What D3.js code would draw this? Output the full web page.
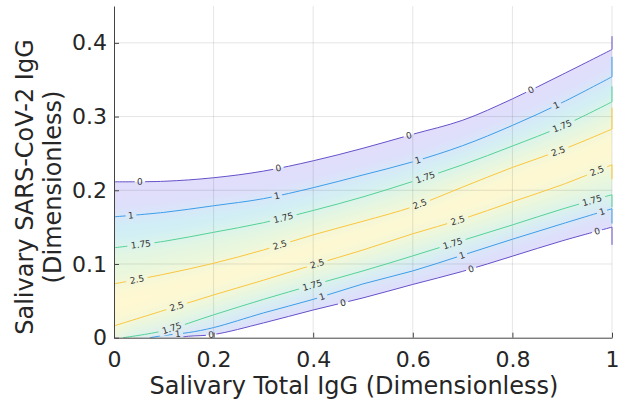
<!DOCTYPE html>
<html>
<head>
<meta charset="utf-8">
<script src="https://cdn.jsdelivr.net/npm/d3@7"></script>
<style>
  body { margin: 0; background: #fff; }
  svg { display: block; font-family: "DejaVu Sans", sans-serif; }
</style>
</head>
<body>
<svg id="chart" width="631" height="406"></svg>
<script>
// contour levels, line colours and the shading between them
const levelText = ['0', '1', '1.75', '2.5'];
const lineColors = ['#6650c9', '#3d9de8', '#55d296', '#fbc63e'];
const bandColors = ['#e0defb', '#cfeff6', '#e6f7df', '#fff8d1'];

const xTicks = [0, 0.2, 0.4, 0.6, 0.8, 1];
const xTickLabels = ['0', '0.2', '0.4', '0.6', '0.8', '1'];
const yTicks = [0, 0.1, 0.2, 0.3, 0.4];
const yTickLabels = ['0', '0.1', '0.2', '0.3', '0.4'];

// upper branches, read at gridX
const gridX = [0, 0.1, 0.2, 0.3, 0.4, 0.5, 0.6, 0.7, 0.8, 0.9, 1];
const upper0 = [0.2115, 0.2122, 0.217, 0.226, 0.240, 0.257, 0.276, 0.295, 0.324, 0.357, 0.391];
const upper1 = [0.164, 0.170, 0.179, 0.1886, 0.2035, 0.2208, 0.2386, 0.2605, 0.288, 0.319, 0.354];
const upper175 = [0.122, 0.1307, 0.143, 0.156, 0.1726, 0.191, 0.212, 0.2346, 0.260, 0.287, 0.320];
const upper25 = [0.073, 0.086, 0.101, 0.119, 0.1395, 0.158, 0.1776, 0.2043, 0.231, 0.255, 0.283];

// lower branches
const lower25 = [0.016, 0.037, 0.058, 0.078, 0.0988, 0.119, 0.141, 0.161, 0.1844, 0.2075, 0.2346];
const lower175X = [0.018, 0.1, 0.2, 0.3, 0.4, 0.5, 0.6, 0.7, 0.8, 0.9, 1];
const lower175 = [0, 0.0095, 0.031, 0.052, 0.0716, 0.0906, 0.111, 0.132, 0.153, 0.1745, 0.194];
const lower1X = [0.072, 0.1, 0.15, 0.2, 0.3, 0.4, 0.5, 0.6, 0.7, 0.8, 0.9, 1];
const lower1 = [0, 0.003, 0.007, 0.0137, 0.0336, 0.052, 0.073, 0.0906, 0.112, 0.1336, 0.1545, 0.175];
const lower0X = [0.126, 0.15, 0.2, 0.3, 0.4, 0.5, 0.6, 0.7, 0.8, 0.9, 1];
const lower0 = [0, 0.002, 0.0043, 0.020, 0.0376, 0.054, 0.0723, 0.090, 0.1106, 0.1314, 0.150];

// short vertical pieces where each contour meets x = 1
const upperEdge = [0.409, 0.381, 0.341, 0.312];
const lowerEdge = [0.126, 0.155, 0.177, 0.215];

// x positions of the inline contour labels
const labelsUpper = [[0.052, 0.33, 0.592, 0.837], [0.034, 0.327, 0.61, 0.888],
                     [0.054, 0.34, 0.625, 0.90], [0.046, 0.333, 0.614, 0.892]];
const labelsLower = [[0.195, 0.46, 0.717, 0.97], [0.128, 0.418, 0.699, 0.98],
                     [0.116, 0.398, 0.68, 0.96], [0.126, 0.408, 0.69, 0.97]];

const upperY = [upper0, upper1, upper175, upper25];
const lowerX = [lower0X, lower1X, lower175X, gridX];
const lowerY = [lower0, lower1, lower175, lower25];

const svg = d3.select('#chart');
const x = d3.scaleLinear().domain([0, 1]).range([114, 612]);
const y = d3.scaleLinear().domain([0, 0.45]).range([337.7, 6]);

const line = d3.line().curve(d3.curveCatmullRom.alpha(0.5));
const upperPts = upperY.map(ys => gridX.map((d, i) => [x(d), y(ys[i])]));
const lowerPts = lowerY.map((ys, k) => lowerX[k].map((d, i) => [x(d), y(ys[i])]));

const defs = svg.append('defs');

// band outline (level 0) used as clip for the shading
const bandPath = line(upperPts[0]) +
  'L' + x(1) + ',' + y(upperEdge[0]) + 'L' + x(1) + ',' + y(lowerEdge[0]) +
  'L' + x(1) + ',' + y(lower0[lower0.length - 1]) +
  'L' + line(lowerPts[0].slice().reverse()).slice(1) +
  'L' + x(0) + ',' + y(0) + 'Z';
defs.append('clipPath').attr('id', 'band').append('path').attr('d', bandPath);

const filt = defs.append('filter').attr('id', 'soft')
  .attr('filterUnits', 'userSpaceOnUse')
  .attr('x', 0).attr('y', 0).attr('width', 631).attr('height', 406);
filt.append('feGaussianBlur').attr('stdDeviation', 9);

// shading
const shade = svg.append('g').attr('clip-path', 'url(#band)')
  .append('g').attr('filter', 'url(#soft)');
shade.append('rect').attr('x', 60).attr('y', 0).attr('width', 600).attr('height', 406)
  .attr('fill', bandColors[0]);
for (let k = 1; k < 4; k++) {
  const up = upperPts[k], lo = lowerPts[k].slice().reverse();
  const first = lo[lo.length - 1];
  const d = 'M' + (x(0) - 25) + ',' + up[0][1] + 'L' + line(up).slice(1) +
    'L' + (x(1) + 25) + ',' + y(upperEdge[k]) +
    'L' + (x(1) + 25) + ',' + y(lowerEdge[k]) +
    'L' + line(lo).slice(1) +
    'L' + first[0] + ',' + (first[1] + 12) +
    'L' + (x(0) - 25) + ',' + (first[1] + 12) + 'Z';
  shade.append('path').attr('d', d).attr('fill', bandColors[k]);
}

// grid
const grid = svg.append('g').attr('stroke', 'rgba(0,0,0,0.1)').attr('stroke-width', 1);
xTicks.filter(d => d > 0).forEach(d => {
  grid.append('line').attr('x1', x(d)).attr('x2', x(d)).attr('y1', y(0)).attr('y2', y(0.45));
});
yTicks.filter(d => d > 0).forEach(d => {
  grid.append('line').attr('x1', x(0)).attr('x2', x(1)).attr('y1', y(d)).attr('y2', y(d));
});

// label placement along a contour
function labelAt(pts, xv) {
  const px = x(xv);
  let i = 0;
  while (i < pts.length - 2 && pts[i + 1][0] < px) i++;
  const a = pts[i], b = pts[i + 1];
  const t = (px - a[0]) / (b[0] - a[0]);
  const ang = Math.atan2(b[1] - a[1], b[0] - a[0]) * 180 / Math.PI;
  return [px, a[1] + t * (b[1] - a[1]), ang];
}
const labels = [];
for (let k = 0; k < 4; k++) {
  labelsUpper[k].forEach(v => labels.push([k, ...labelAt(upperPts[k], v)]));
  labelsLower[k].forEach(v => labels.push([k, ...labelAt(lowerPts[k], v)]));
}

// gaps in the lines under the labels
const mask = defs.append('mask').attr('id', 'gaps').attr('maskUnits', 'userSpaceOnUse')
  .attr('x', 0).attr('y', 0).attr('width', 631).attr('height', 406);
mask.append('rect').attr('width', 631).attr('height', 406).attr('fill', '#fff');
labels.forEach(([k, px, py, ang]) => {
  const w = levelText[k].length * 5.6 + 5;
  mask.append('rect').attr('x', -w / 2).attr('y', -5).attr('width', w).attr('height', 10)
    .attr('transform', `translate(${px},${py}) rotate(${ang})`).attr('fill', '#000');
});

const lines = svg.append('g').attr('mask', 'url(#gaps)').attr('fill', 'none').attr('stroke-width', 1);
for (let k = 0; k < 4; k++) {
  lines.append('path').attr('d', line(upperPts[k])).attr('stroke', lineColors[k]);
  lines.append('path').attr('d', line(lowerPts[k])).attr('stroke', lineColors[k]);
  lines.append('line').attr('x1', x(1)).attr('x2', x(1))
    .attr('y1', y(upperY[k][10])).attr('y2', y(upperEdge[k])).attr('stroke', lineColors[k]);
  lines.append('line').attr('x1', x(1)).attr('x2', x(1))
    .attr('y1', y(lowerY[k][lowerY[k].length - 1])).attr('y2', y(lowerEdge[k])).attr('stroke', lineColors[k]);
}

svg.append('g').selectAll('text').data(labels).join('text')
  .attr('transform', d => `translate(${d[1]},${d[2]}) rotate(${d[3]})`)
  .attr('text-anchor', 'middle').attr('dy', '0.35em')
  .attr('font-size', 9).attr('fill', '#333')
  .text(d => levelText[d[0]]);

// axes
const axX = svg.append('g').attr('transform', `translate(0,${y(0)})`)
  .call(d3.axisBottom(x).tickValues(xTicks).tickFormat((d, i) => xTickLabels[i])
    .tickSizeInner(-5).tickSizeOuter(0).tickPadding(14));
const axY = svg.append('g').attr('transform', `translate(${x(0)},0)`)
  .call(d3.axisLeft(y).tickValues(yTicks).tickFormat((d, i) => yTickLabels[i])
    .tickSizeInner(-5).tickSizeOuter(0).tickPadding(7));
[axX, axY].forEach(a => {
  a.attr('font-family', null).attr('font-size', null);
  a.select('.domain').attr('stroke', '#444');
  a.selectAll('.tick line').attr('stroke', '#444');
  a.selectAll('.tick text').attr('fill', '#262626').style('font-size', '22px');
});

svg.append('text').attr('x', 354).attr('y', 394).attr('text-anchor', 'middle')
  .attr('fill', '#262626').style('font-size', '24px')
  .text('Salivary Total IgG (Dimensionless)');
svg.append('text').attr('transform', 'translate(33,187) rotate(-90)').attr('text-anchor', 'middle')
  .attr('fill', '#262626').style('font-size', '24px')
  .text('Salivary SARS-CoV-2 IgG');
svg.append('text').attr('transform', 'translate(61,187) rotate(-90)').attr('text-anchor', 'middle')
  .attr('fill', '#262626').style('font-size', '24px')
  .text('(Dimensionless)');
</script>
</body>
</html>
